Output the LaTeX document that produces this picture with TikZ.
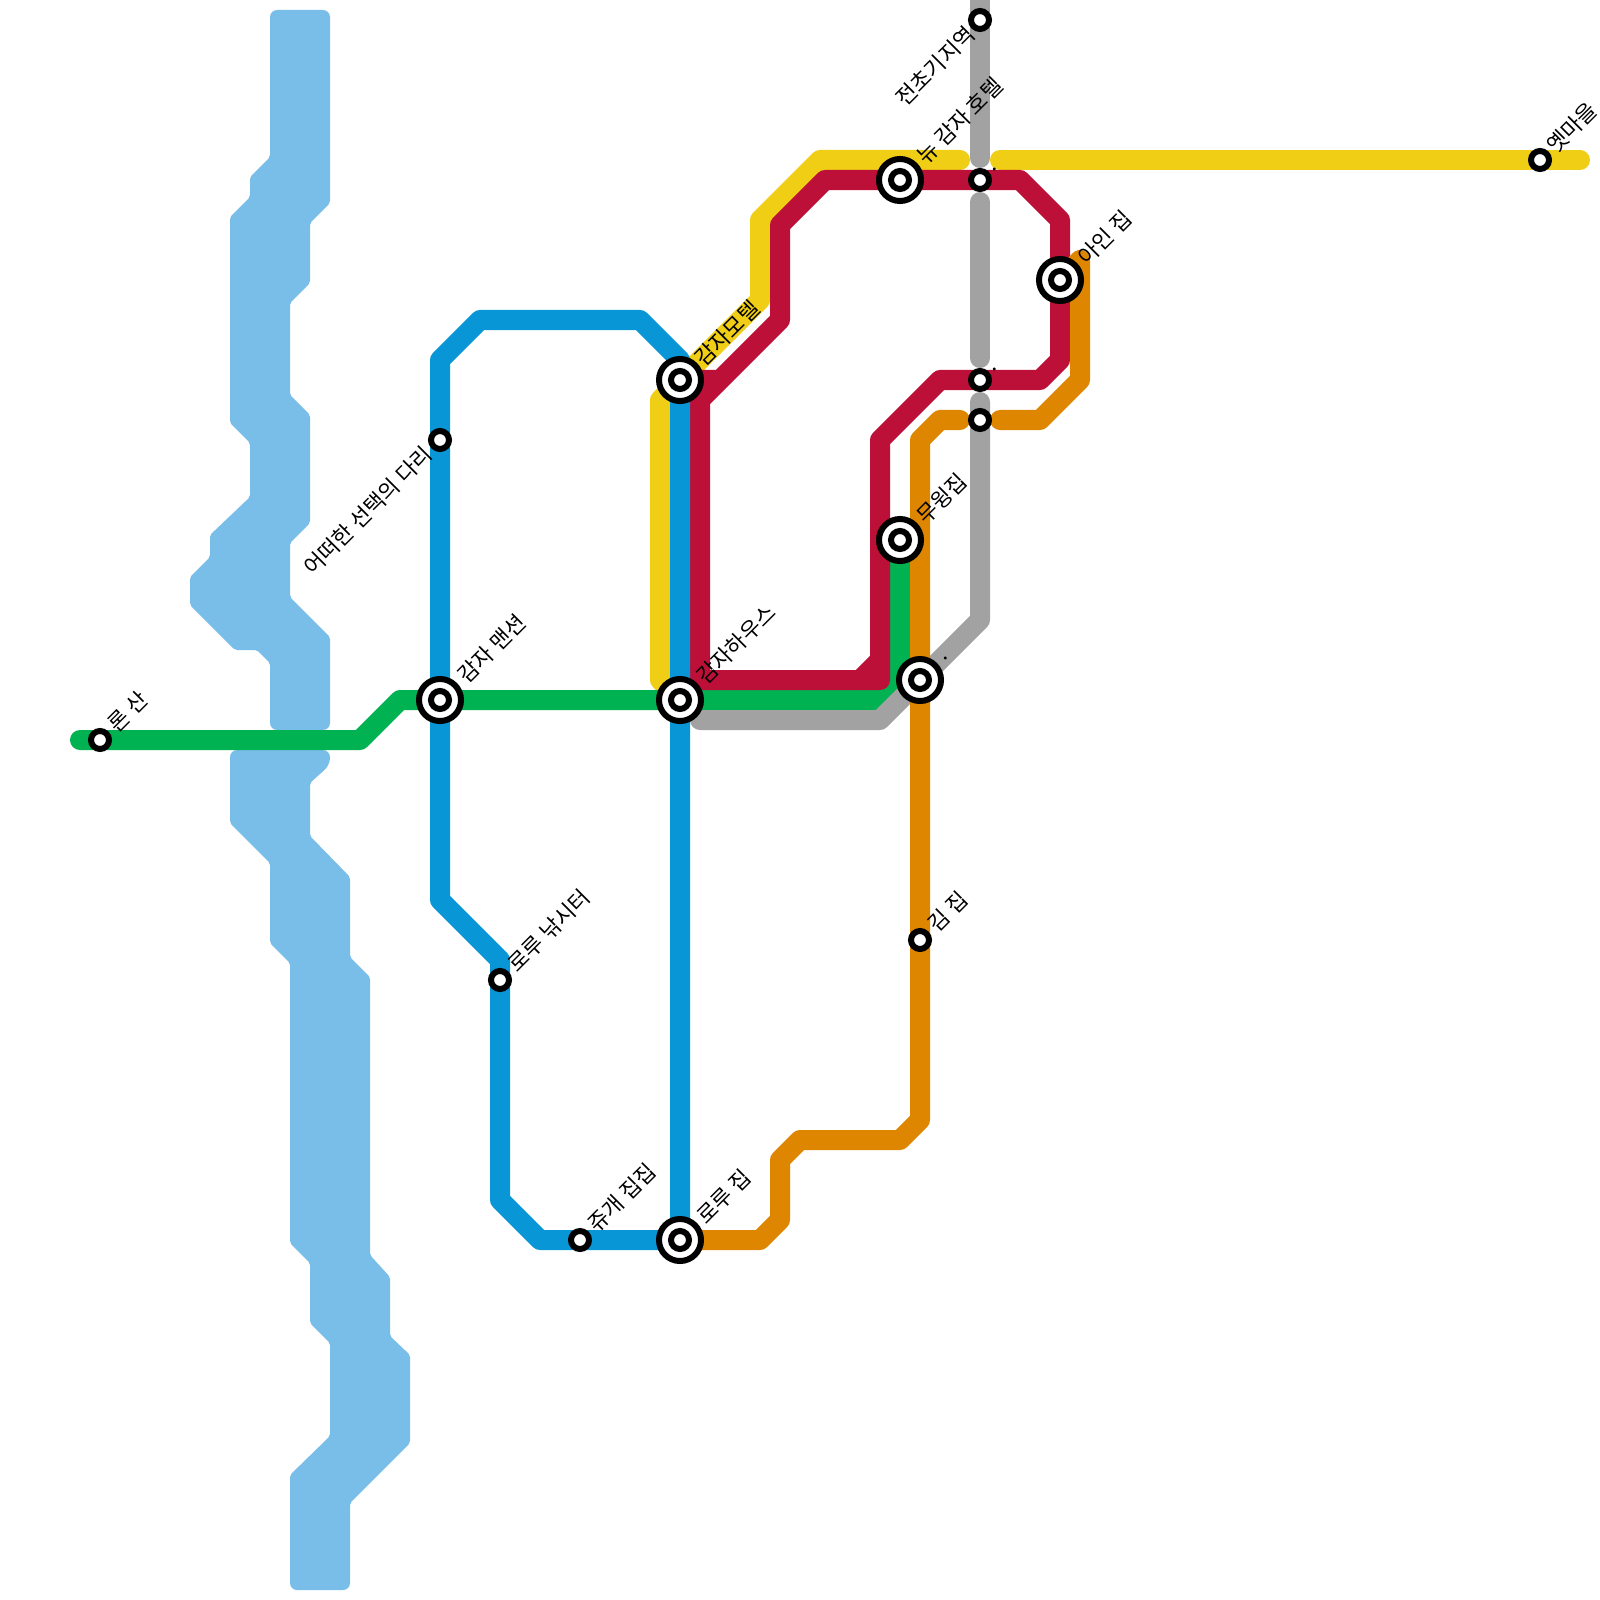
\documentclass[tikz,border=0pt]{standalone}
\usepackage{fontspec}
\setmainfont{Noto Sans CJK KR}
\usetikzlibrary{backgrounds}
\definecolor{riverblue}{HTML}{79BDE9}
\definecolor{lineblue}{HTML}{0896D7}
\definecolor{linegreen}{HTML}{00B251}
\definecolor{lineyellow}{HTML}{F0CE15}
\definecolor{linered}{HTML}{BD1038}
\definecolor{lineorange}{HTML}{DF8600}
\definecolor{linegray}{HTML}{A2A2A2}
\tikzset{
  metroline/.style={line width=.2cm,line cap=round,line join=round},
  river/.style={fill=riverblue},
  smallstop/.style={circle,draw=black,fill=white,line width=.06cm,minimum size=.18cm,inner sep=0pt},
  bigstop/.style={circle,draw=black,fill=white,line width=.06cm,minimum size=.42cm,inner sep=0pt,
    path picture={\draw[line width=.06cm] (path picture bounding box.center) circle (.09cm);}},
  stoplabel/.style={anchor=base west,rotate=45,inner sep=0pt,font=\fontsize{6.2pt}{7pt}\selectfont},
  backlabel/.style={anchor=base east,rotate=45,inner sep=0pt,font=\fontsize{6.2pt}{7pt}\selectfont}
}
\begin{document}
\begin{tikzpicture}[x=.01cm,y=-.01cm]
    \useasboundingbox (0,0) rectangle (1600,1600);
    \node[smallstop] (ronsan) at (100,740) {};
    \node[smallstop] (bridge) at (440,440) {};
    \node[bigstop] (mansion) at (440,700) {};
    \node[smallstop] (fishing) at (500,980) {};
    \node[smallstop] (jugae) at (580,1240) {};
    \node[bigstop] (roluhome) at (680,1240) {};
    \node[bigstop] (house) at (680,700) {};
    \node[bigstop] (motel) at (680,380) {};
    \node[bigstop] (hotel) at (900,180) {};
    \node[smallstop] (outpost) at (980,20) {};
    \node[smallstop] (topcross) at (980,180) {};
    \node[smallstop] (redcross) at (980,380) {};
    \node[smallstop] (orangecross) at (980,420) {};
    \node[bigstop] (ainhome) at (1060,280) {};
    \node[bigstop] (muwing) at (900,540) {};
    \node[bigstop] (junction) at (920,680) {};
    \node[smallstop] (kimhome) at (920,940) {};
    \node[smallstop] (oldtown) at (1540,160) {};

    \begin{pgfonlayer}{background}
        \fill[river] (300,10) [rounded corners=2pt] -- (330,10) [rounded corners=.6pt] -- (330,203) -- (310,223) -- (310,283) -- (290,303) -- (290,395) -- (310,415) -- (310,523) -- (290,543) -- (290,597) -- (330,637) [rounded corners=2pt] -- (330,730) -- (270,730) [rounded corners=.6pt] -- (270,663) -- (257,650) -- (235,650) -- (190,605) -- (190,577) -- (210,557) -- (210,535) -- (250,497) -- (250,443) -- (230,423) -- (230,217) -- (250,197) -- (250,177) -- (270,157) [rounded corners=2pt] -- (270,10) -- cycle;
        \fill[river] (280,750) [rounded corners=2pt] -- (330,750) -- (330,765) [rounded corners=.6pt] -- (310,783) -- (310,836) -- (350,877) -- (350,957) -- (370,977) -- (370,1255) -- (390,1277) -- (390,1336) -- (410,1355) -- (410,1443) -- (350,1503) [rounded corners=2pt] -- (350,1590) -- (290,1590) [rounded corners=.6pt] -- (290,1475) -- (330,1436) -- (330,1343) -- (310,1323) -- (310,1263) -- (290,1243) -- (290,963) -- (270,943) -- (270,863) -- (230,823) [rounded corners=2pt] -- (230,750) -- cycle;
        \draw[metroline,lineyellow] (house.center) -- (660,680) -- (660,400) -- (motel.center) -- (760,300) -- (760,220) -- (820,160) -- (960,160);
        \draw[metroline,lineyellow] (1000,160) -- (oldtown.center) -- (1580,160);
        \draw[metroline,linegreen] (80,740) -- (ronsan.center) -- (360,740) -- (400,700) -- (mansion.center) -- (house.center) -- (880,700) -- (900,680) -- (muwing.center);
        \draw[metroline,linegray] (outpost.center) -- (980,-10);
        \draw[metroline,linegray] (outpost.center) -- (980,158);
        \draw[metroline,linegray] (980,202) -- (980,358);
        \draw[metroline,linegray] (980,402) -- (980,620) -- (junction.center) -- (880,720) -- (700,720);
        \draw[metroline,linered] (motel.center) -- (720,380) -- (780,320) -- (780,225) -- (825,180) -- (hotel.center) -- (topcross.center) -- (1020,180) -- (1060,220) -- (ainhome.center) -- (1060,360) -- (1040,380) -- (redcross.center) -- (940,380) -- (880,440) -- (muwing.center -| 880,0) -- (880,680) -- (700,680) -- (700,400) -- (720,380);
        \draw[metroline,linered] (860,680) -- (880,660);
        \draw[metroline,lineblue] (roluhome.center) -- (house.center) -- (motel.center) -- (680,360) -- (640,320) -- (480,320) -- (440,360) -- (bridge.center) -- (mansion.center) -- (440,900) -- (500,960) -- (fishing.center) -- (500,1200) -- (540,1240) -- (jugae.center) -- (roluhome.center);
        \draw[metroline,lineorange] (roluhome.center) -- (760,1240) -- (780,1220) -- (780,1160) -- (800,1140) -- (900,1140) -- (920,1120) -- (kimhome.center) -- (junction.center) -- (920,440) -- (940,420) -- (960,420);
        \draw[metroline,lineorange] (1000,420) -- (1040,420) -- (1080,380) -- (1080,260) -- (ainhome.center);
    \end{pgfonlayer}

    \node[stoplabel] (ronsanlabel) at (117,734) {론 산};
    \node[backlabel] (bridgelabel) at (434,456) {어떠한 선택의 다리};
    \node[stoplabel] (mansionlabel) at (467,685) {감자 맨션};
    \node[stoplabel] (fishinglabel) at (517,974) {로루 낚시터};
    \node[stoplabel] (jugaelabel) at (597,1234) {쥬개 집집};
    \node[stoplabel] (roluhomelabel) at (706,1226) {로루 집};
    \node[stoplabel] (houselabel) at (706,686) {감자하우스};
    \node[stoplabel] (motellabel) at (704,368) {감자모텔};
    \node[stoplabel] (hotellabel) at (926,166) {뉴 감자 호텔};
    \node[backlabel] (outpostlabel) at (977,36) {전초기지역};
    \node[stoplabel] (topcrosslabel) at (993,173) {.};
    \node[stoplabel] (redcrosslabel) at (993,373) {.};
    \node[stoplabel] (ainhomelabel) at (1087,267) {아인 집};
    \node[stoplabel] (muwinglabel) at (926,526) {무윙집};
    \node[stoplabel] (junctionlabel) at (944,662) {.};
    \node[stoplabel] (kimhomelabel) at (937,934) {김 집};
    \node[stoplabel] (oldtownlabel) at (1556,155) {옛마을};
\end{tikzpicture}
\end{document}
